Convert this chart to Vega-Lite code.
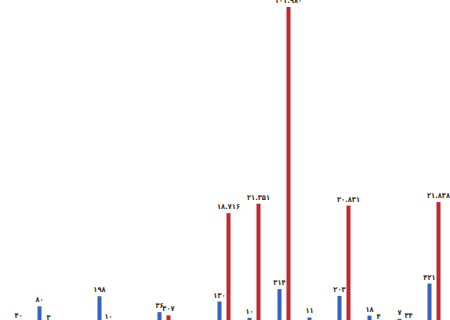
{
  "$schema": "https://vega.github.io/schema/vega-lite/v6.json",
  "width": 450,
  "height": 324,
  "autosize": "none",
  "padding": 0,
  "background": "white",
  "config": {
    "view": {"stroke": null},
    "locale": {
      "number": {
        "decimal": "/",
        "thousands": ".",
        "grouping": [3],
        "currency": ["", ""],
        "numerals": ["۰", "۱", "۲", "۳", "۴", "۵", "۶", "۷", "۸", "۹"]
      }
    }
  },
  "data": {
    "values": [
      {"cat": "c01", "series": "B", "value": 40},
      {"cat": "c02", "series": "A", "value": 80},
      {"cat": "c02", "series": "B", "value": 3},
      {"cat": "c04", "series": "A", "value": 198},
      {"cat": "c04", "series": "B", "value": 10},
      {"cat": "c06", "series": "A", "value": 36},
      {"cat": "c06", "series": "B", "value": 307},
      {"cat": "c08", "series": "A", "value": 130},
      {"cat": "c08", "series": "B", "value": 18716},
      {"cat": "c09", "series": "A", "value": 10},
      {"cat": "c09", "series": "B", "value": 21351},
      {"cat": "c10", "series": "A", "value": 314},
      {"cat": "c10", "series": "B", "value": 101980},
      {"cat": "c11", "series": "A", "value": 11},
      {"cat": "c12", "series": "A", "value": 203},
      {"cat": "c12", "series": "B", "value": 20831},
      {"cat": "c13", "series": "A", "value": 18},
      {"cat": "c13", "series": "B", "value": 4},
      {"cat": "c14", "series": "A", "value": 7},
      {"cat": "c14", "series": "B", "value": 34},
      {"cat": "c15", "series": "A", "value": 421},
      {"cat": "c15", "series": "B", "value": 21838}
    ]
  },
  "encoding": {
    "x": {
      "field": "cat",
      "type": "nominal",
      "scale": {
        "domain": ["c01", "c02", "c03", "c04", "c05", "c06", "c07", "c08", "c09", "c10", "c11", "c12", "c13", "c14", "c15"],
        "range": [-1, 449],
        "paddingInner": 0.4,
        "paddingOuter": 0.2
      },
      "axis": null
    },
    "xOffset": {
      "field": "series",
      "type": "nominal",
      "scale": {"domain": ["A", "B"], "paddingInner": 0, "paddingOuter": 0}
    }
  },
  "layer": [
    {
      "transform": [{"filter": "datum.series === 'A'"}],
      "encoding": {
        "y": {
          "field": "value",
          "type": "quantitative",
          "scale": {"type": "sqrt", "domain": [0, 27000], "nice": false, "zero": true},
          "axis": null
        }
      },
      "layer": [
        {"mark": {"type": "bar", "width": 4, "color": "#3563c0"}},
        {
          "mark": {"type": "text", "dy": -4, "baseline": "alphabetic", "font": "DejaVu Sans Condensed", "fontSize": 7.5, "fontWeight": "bold", "color": "#333333"},
          "encoding": {"text": {"field": "value", "type": "quantitative", "format": ",d"}}
        }
      ]
    },
    {
      "transform": [{"filter": "datum.series === 'B'"}],
      "encoding": {
        "y": {
          "field": "value",
          "type": "quantitative",
          "scale": {"type": "pow", "exponent": 0.62, "domain": [0, 105600], "nice": false, "zero": true},
          "axis": null
        }
      },
      "layer": [
        {"mark": {"type": "bar", "width": 4, "color": "#c0282e"}},
        {
          "mark": {"type": "text", "dy": -4, "baseline": "alphabetic", "font": "DejaVu Sans Condensed", "fontSize": 7.5, "fontWeight": "bold", "color": "#333333"},
          "encoding": {"text": {"field": "value", "type": "quantitative", "format": ",d"}}
        }
      ]
    }
  ],
  "resolve": {"scale": {"y": "independent"}}
}
